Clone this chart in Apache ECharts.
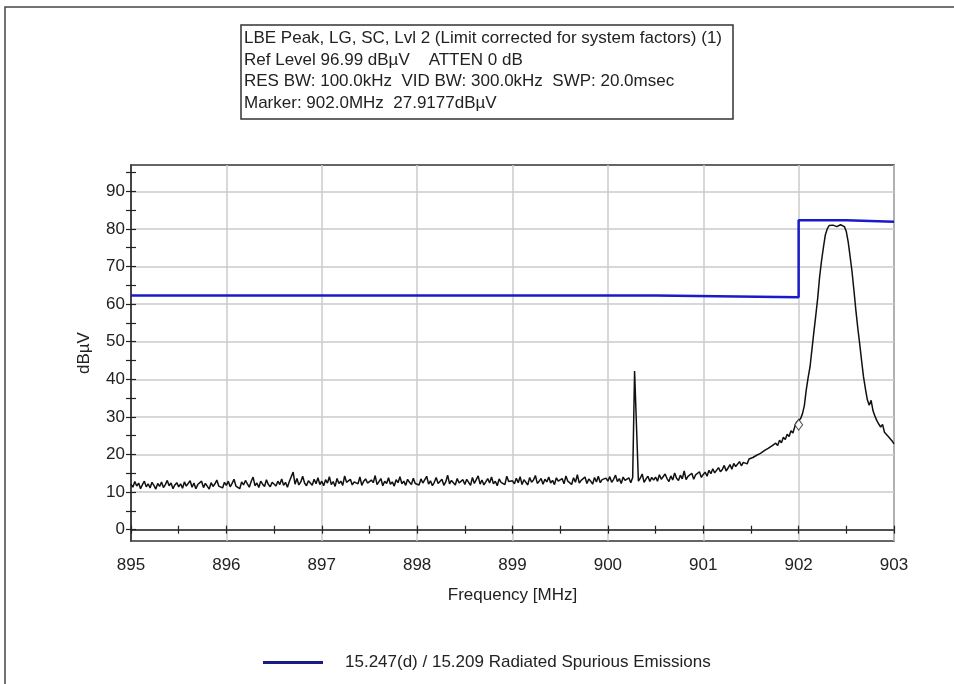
<!DOCTYPE html>
<html>
<head>
<meta charset="utf-8">
<script src="https://cdn.jsdelivr.net/npm/echarts@6/dist/echarts.min.js"></script>
<style>
  html, body { margin: 0; padding: 0; background: #fff; }
  #chart { width: 954px; height: 684px; }
</style>
</head>
<body>
<div id="chart"></div>
<script>
// ---- data ----

// trace frequency grid (MHz)
const freqStart = 895
const freqStep = 0.02

// measured level at each grid step (dBµV)
const traceLevels = [
  // 895.0 - 895.5
  12.1, 11.3, 12.8, 11.6, 12.4, 10.9, 12.0, 12.9, 11.4, 12.2, 11.1, 12.6, 11.8, 10.8, 12.3, 11.5, 12.7, 11.2, 12.0, 13.1, 11.7, 12.4, 10.9, 11.9, 12.5,
  // 895.5 - 896
  11.4, 12.2, 11.0, 12.7, 11.6, 12.1, 13.0, 11.3, 12.4, 10.9, 12.0, 11.7, 12.9, 11.2, 12.3, 11.8, 10.8, 12.5, 11.5, 12.2, 13.2, 11.6, 12.0, 11.1, 12.6,
  // 896 - 896.5
  11.8, 12.9, 11.4, 12.3, 13.4, 11.6, 12.1, 10.9, 12.7, 11.9, 13.1, 12.2, 11.3, 12.8, 14.0, 11.7, 12.4, 11.2, 12.9, 12.1, 11.5, 13.3, 12.0, 11.4, 12.6,
  // 896.5 - 897
  12.3, 11.6, 12.9, 12.0, 13.5, 11.8, 12.6, 11.3, 12.8, 13.2, 15.3, 12.1, 13.6, 11.9, 12.7, 14.2, 12.4, 11.7, 13.0, 12.5, 11.8, 13.4, 12.2, 13.8, 12.0,
  // 897 - 897.5
  12.9, 11.7, 13.3, 12.4, 14.1, 12.0, 12.8, 11.5, 13.6, 12.3, 12.9, 11.8, 14.3, 12.6, 12.1, 13.4, 11.9, 12.7, 13.1, 12.2, 14.0, 11.8, 12.9, 13.5, 12.4,
  // 897.5 - 898
  11.9, 13.2, 12.5, 14.4, 12.0, 12.8, 13.6, 11.7, 12.9, 12.3, 13.8, 12.1, 12.7, 11.6, 13.3, 12.5, 14.1, 12.2, 12.9, 11.8, 13.4, 12.6, 12.0, 13.7, 12.3,
  // 898 - 898.5
  12.8, 11.9, 13.5, 12.4, 12.9, 14.2, 12.1, 13.0, 11.7, 12.6, 13.9, 12.3, 12.8, 13.4, 11.8, 12.7, 14.5, 12.2, 13.1, 12.5, 11.9, 13.6, 12.4, 12.9, 13.3,
  // 898.5 - 899
  12.0, 13.4, 12.6, 11.8, 13.9, 12.3, 12.8, 14.3, 12.1, 13.2, 11.9, 12.7, 13.6, 12.4, 14.0, 12.2, 12.9, 11.7, 13.5, 12.6, 13.1, 12.0, 14.2, 12.8, 12.4,
  // 899 - 899.5
  13.0, 12.2, 13.7, 12.5, 14.1, 12.0, 13.3, 12.8, 11.9, 13.9, 12.6, 13.2, 14.4, 12.3, 12.9, 13.6, 12.1, 13.4, 12.7, 14.0, 12.4, 13.1, 12.0, 13.8, 12.9,
  // 899.5 - 900
  12.5, 13.6, 12.2, 14.3, 12.9, 13.3, 12.0, 13.8, 12.6, 14.6, 12.4, 13.1, 12.8, 14.0, 12.3, 13.5, 12.9, 12.1, 13.9, 12.7, 14.2, 12.5, 13.3, 12.8, 13.7,
  // 900 - 900.5 (spur near 900.28)
  12.9, 14.1, 12.6, 13.4, 14.5, 12.8, 13.6, 12.3, 14.0, 13.1, 12.7, 13.8, 12.5, 13.9, 42.2, 27.6, 12.9, 13.7, 14.8, 12.6, 13.5, 14.2, 12.8, 13.9, 13.2,
  // 900.5 - 901
  14.0, 12.9, 14.6, 13.4, 13.0, 14.8, 13.6, 12.8, 14.3, 13.2, 15.1, 13.7, 13.1, 14.5, 13.5, 15.6, 13.3, 14.2, 13.8, 15.0, 13.4, 14.6, 14.1, 15.4, 13.9,
  // 901 - 901.5
  14.7, 15.3, 14.2, 15.8, 14.9, 16.2, 15.1, 14.6, 16.5, 15.4, 16.0, 17.1, 15.6, 16.4, 17.3, 16.1, 17.6, 16.8, 17.2, 18.1, 17.0, 17.9, 18.4, 17.5, 18.8,
  // 901.5 - 902
  18.3, 19.2, 18.7, 19.8, 19.4, 20.3, 19.9, 21.0, 20.5, 21.6, 21.2, 22.3, 21.8, 23.0, 22.4, 23.8, 23.1, 24.6, 24.0, 25.4, 24.8, 26.3, 25.7, 27.4, 28.6,
  // 902 - 902.5 (carrier)
  28.3, 29.5, 30.8, 33.0, 37.2, 40.5, 43.4, 48.0, 52.6, 57.0, 61.6, 67.2, 71.5, 75.1, 78.4, 80.0, 80.9, 81.2, 81.0, 80.7, 80.6, 80.8, 81.1, 81.2, 80.6,
  // 902.5 - 903
  79.3, 76.5, 72.6, 68.6, 63.6, 58.4, 53.7, 49.5, 45.0, 40.7, 37.5, 34.6, 33.1, 34.4, 31.6, 30.2, 29.0, 28.1, 27.3, 28.0, 25.9, 26.4, 24.8, 25.3, 23.6,
  22.8
]

// limit line (corrected for system factors)
const limitFreq = [895, 900.5, 900.5, 902, 902, 902.5, 902.5, 903]
const limitLevel = [62.3, 62.3, 61.8, 61.8, 82.3, 82.3, 81.9, 81.9]

// marker
const markerFreq = [902.0]
const markerLevel = [27.9177]

// axes
const xLabels = [895, 896, 897, 898, 899, 900, 901, 902, 903]
const xTicks = [895, 895.5, 896, 896.5, 897, 897.5, 898, 898.5, 899, 899.5, 900, 900.5, 901, 901.5, 902, 902.5, 903]
const yLabels = [0, 10, 20, 30, 40, 50, 60, 70, 80, 90]
const yTicks = [0, 5, 10, 15, 20, 25, 30, 35, 40, 45, 50, 55, 60, 65, 70, 75, 80, 85, 90, 95]
const yMin = -3.01
const yMax = 96.99

const headerLines = [
  'LBE Peak, LG, SC, Lvl 2 (Limit corrected for system factors) (1)',
  'Ref Level 96.99 dBµV    ATTEN 0 dB',
  'RES BW: 100.0kHz  VID BW: 300.0kHz  SWP: 20.0msec',
  'Marker: 902.0MHz  27.9177dBµV'
]
const limitName = '15.247(d) / 15.209 Radiated Spurious Emissions'

// ---- build ----
const FONT = '"Liberation Sans", Arial, sans-serif'
const INK = '#222'

const traceData = traceLevels.map((v, i) => [+(freqStart + i * freqStep).toFixed(2), v])
const limitData = limitFreq.map((f, i) => [f, limitLevel[i]])
const markerData = markerFreq.map((f, i) => [f, markerLevel[i]])

const chart = echarts.init(document.getElementById('chart'))

const yBase = { type: 'value', min: yMin, max: yMax, position: 'left' }
const xBase = { type: 'value', min: 895, max: 903, position: 'bottom' }

chart.setOption({
  animation: false,
  backgroundColor: '#fff',
  grid: {
    left: 131, right: 60, top: 165, bottom: 143,
    show: true, borderColor: '#333', borderWidth: 1.5, backgroundColor: 'transparent'
  },
  graphic: [
    // outer frame
    {
      type: 'polyline', silent: true,
      shape: { points: [[5, 684], [5, 7], [954, 7]] },
      style: { stroke: '#444', lineWidth: 1.5, fill: null }
    },
    // header box
    {
      type: 'rect', silent: true,
      shape: { x: 241, y: 25, width: 492, height: 94 },
      style: { fill: '#fff', stroke: '#333', lineWidth: 1.5 }
    },
    {
      type: 'text', silent: true, left: 244, top: 28,
      style: {
        text: headerLines.join('\n'),
        font: '17px ' + FONT, lineHeight: 21.5, fill: INK
      }
    }
  ],
  legend: {
    left: 258, top: 649,
    icon: 'rect', itemWidth: 60, itemHeight: 3,
    data: [{ name: limitName, itemStyle: { color: '#1b1b82' } }],
    textStyle: { fontFamily: FONT, fontSize: 17, color: INK, padding: [0, 0, 0, 17] }
  },
  xAxis: [
    {
      ...xBase,
      axisLine: { show: false, onZero: false },
      axisTick: { show: false, customValues: xLabels },
      axisLabel: { customValues: xLabels, margin: 16, fontFamily: FONT, fontSize: 17, color: INK },
      splitLine: { show: true, lineStyle: { color: '#cbcbcb', width: 1.5 } },
      name: 'Frequency [MHz]', nameLocation: 'middle', nameGap: 46,
      nameTextStyle: { fontFamily: FONT, fontSize: 17, color: INK }
    },
    {
      ...xBase,
      axisLine: { show: true, onZero: true, onZeroAxisIndex: 0, lineStyle: { color: INK, width: 1.5 } },
      axisTick: { show: true, inside: true, length: 4, customValues: xTicks, lineStyle: { color: INK, width: 1.2 } },
      axisLabel: { show: false },
      splitLine: { show: false }
    },
    {
      ...xBase,
      axisLine: { show: false, onZero: true, onZeroAxisIndex: 0 },
      axisTick: { show: true, inside: false, length: 4, customValues: xTicks, lineStyle: { color: INK, width: 1.2 } },
      axisLabel: { show: false },
      splitLine: { show: false }
    }
  ],
  yAxis: [
    {
      ...yBase,
      axisLine: { show: true, onZero: false, lineStyle: { color: INK, width: 1.5 } },
      axisTick: { show: true, inside: false, length: 5, customValues: yTicks, lineStyle: { color: INK, width: 1.2 } },
      axisLabel: { customValues: yLabels, margin: 6, fontFamily: FONT, fontSize: 17, color: INK },
      splitLine: { show: false },
      name: 'dBµV', nameLocation: 'middle', nameGap: 38, nameRotate: 90,
      nameTextStyle: { fontFamily: FONT, fontSize: 17, color: INK }
    },
    {
      ...yBase,
      axisLine: { show: false, onZero: false },
      axisTick: { show: true, inside: true, length: 5, customValues: yTicks, lineStyle: { color: INK, width: 1.2 } },
      axisLabel: { show: false },
      splitLine: { show: false }
    },
    {
      ...yBase,
      axisLine: { show: false, onZero: false },
      axisTick: { show: false, customValues: yLabels },
      axisLabel: { show: false },
      splitLine: { show: true, lineStyle: { color: '#cbcbcb', width: 1.5 } }
    }
  ],
  series: [
    {
      name: 'trace', type: 'line', data: traceData,
      symbol: 'none', z: 3,
      lineStyle: { color: '#111', width: 1.5 }
    },
    {
      name: limitName, type: 'line', data: limitData,
      symbol: 'none', z: 4,
      lineStyle: { color: '#1a1ac8', width: 2.5 },
      itemStyle: { color: '#1b1b82' }
    },
    {
      name: 'marker', type: 'scatter', data: markerData,
      symbol: 'diamond', symbolSize: [8, 11], z: 5,
      itemStyle: { color: '#fff', borderColor: '#222', borderWidth: 1 }
    }
  ]
})
</script>
</body>
</html>
